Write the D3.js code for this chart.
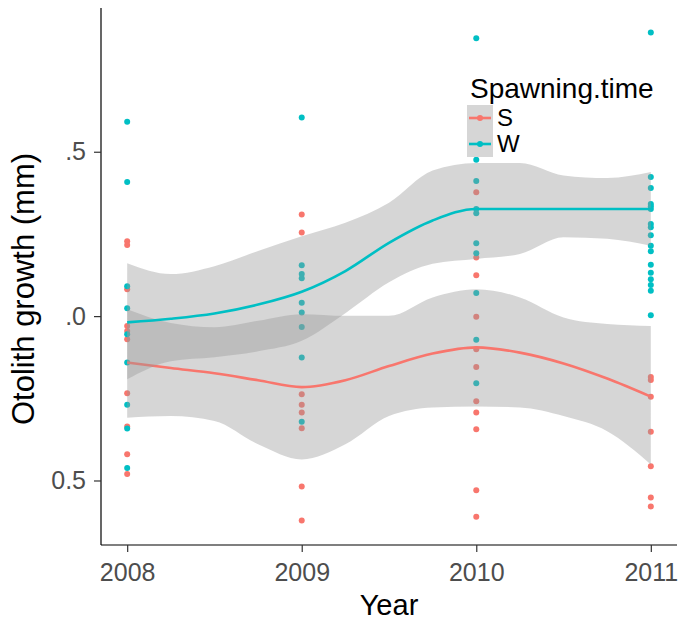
<!DOCTYPE html>
<html>
<head>
<meta charset="utf-8">
<script src="https://cdn.jsdelivr.net/npm/d3@7"></script>
<style>
  html, body { margin: 0; padding: 0; background: #fff; }
  svg { display: block; font-family: "Liberation Sans", Arial, sans-serif; }
</style>
</head>
<body>
<svg id="chart" width="678" height="621"></svg>
<script>
// Observed otolith growth per year, by spawning time
const years = [2008, 2009, 2010, 2011];
const groups = ["S", "W"];
const groupColors = ["#F8766D", "#00BFC4"];

const growthS = [
  [1.228, 1.216, 1.082, 0.970, 0.955, 0.930, 0.765, 0.664, 0.580, 0.520],
  [1.309, 1.254, 0.762, 0.730, 0.707, 0.659, 0.482, 0.378],
  [1.377, 1.178, 1.124, 0.998, 0.899, 0.845, 0.741, 0.707, 0.656, 0.470, 0.390],
  [0.815, 0.806, 0.755, 0.648, 0.543, 0.448, 0.421]
];
const growthW = [
  [1.591, 1.408, 1.091, 1.024, 0.945, 0.859, 0.730, 0.658, 0.538],
  [1.604, 1.155, 1.128, 1.115, 1.041, 1.011, 0.967, 0.874, 0.679],
  [1.845, 1.476, 1.411, 1.326, 1.313, 1.222, 1.191, 1.070, 0.928, 0.796],
  [1.863, 1.423, 1.390, 1.341, 1.334, 1.326, 1.280, 1.270, 1.246, 1.214, 1.197,
   1.156, 1.132, 1.112, 1.095, 1.077, 1.003]
];

// Loess smooth with confidence band, sampled along the year axis
const smoothYears = [2008, 2008.25, 2008.5, 2008.75, 2009, 2009.25, 2009.5,
                     2009.75, 2010, 2010.25, 2010.5, 2010.75, 2011];
const fitS   = [0.859, 0.842, 0.826, 0.805, 0.784, 0.805, 0.848, 0.886, 0.905, 0.889, 0.856, 0.810, 0.755];
const lowerS = [0.691, 0.696, 0.681, 0.610, 0.564, 0.610, 0.696, 0.722, 0.725, 0.722, 0.696, 0.650, 0.549];
const upperS = [1.021, 0.979, 0.966, 0.986, 1.006, 1.001, 1.001, 1.057, 1.082, 1.057, 0.996, 0.976, 0.970];
const fitW   = [0.981, 0.992, 1.008, 1.035, 1.074, 1.137, 1.223, 1.291, 1.326, 1.326, 1.326, 1.326, 1.326];
const lowerW = [0.808, 0.863, 0.875, 0.893, 0.925, 1.009, 1.103, 1.159, 1.174, 1.189, 1.240, 1.235, 1.214];
const upperW = [1.161, 1.128, 1.152, 1.198, 1.243, 1.284, 1.345, 1.443, 1.466, 1.466, 1.428, 1.420, 1.438];

const yTickValues = [1.5, 1.0, 0.5];
const yTickLabels = [".5", ".0", "0.5"];
const xTickValues = [2008, 2009, 2010, 2011];

const svg = d3.select("#chart");
const panel = { left: 101, right: 677, top: 8, bottom: 545 };

// Continuous scales with ggplot-style 5% expansion
const allValues = growthS.flat().concat(growthW.flat());
const yMin = d3.min(allValues), yMax = d3.max(allValues);
const yPad = (yMax - yMin) * 0.05;
const y = d3.scaleLinear().domain([yMin - yPad, yMax + yPad]).range([panel.bottom, panel.top]);
const x = d3.scaleLinear().domain([2008 - 0.15, 2011 + 0.15]).range([panel.left, panel.right]);

// Points
const pointData = [];
[growthS, growthW].forEach((series, gi) => {
  series.forEach((vals, yi) => vals.forEach(v => pointData.push({ g: gi, year: years[yi], v })));
});
svg.append("g").selectAll("circle").data(pointData).join("circle")
  .attr("cx", d => x(d.year)).attr("cy", d => y(d.v)).attr("r", 3)
  .attr("fill", d => groupColors[d.g]);

// Smooths: ribbon then line per group
const smooths = [
  { fit: fitS, lo: lowerS, hi: upperS },
  { fit: fitW, lo: lowerW, hi: upperW }
];
const area = d3.area().curve(d3.curveMonotoneX)
  .x(i => x(smoothYears[i]));
const line = d3.line().curve(d3.curveMonotoneX)
  .x(i => x(smoothYears[i]));
const idx = d3.range(smoothYears.length);
const gSmooth = svg.append("g");
smooths.forEach((s, gi) => {
  gSmooth.append("path").datum(idx)
    .attr("d", area.y0(i => y(s.lo[i])).y1(i => y(s.hi[i])))
    .attr("fill", "#999999").attr("fill-opacity", 0.4);
  gSmooth.append("path").datum(idx)
    .attr("d", line.y(i => y(s.fit[i])))
    .attr("fill", "none").attr("stroke", groupColors[gi]).attr("stroke-width", 2.6);
});

// Axes
const yAxis = d3.axisLeft(y).tickValues(yTickValues)
  .tickFormat((d, i) => yTickLabels[i]).tickSize(7).tickPadding(8);
const gy = svg.append("g").attr("transform", `translate(${panel.left},0)`).call(yAxis);
gy.select(".domain").attr("d", `M0,${panel.top}V${panel.bottom}`).attr("stroke", "#000").attr("stroke-width", 1.2);
gy.selectAll(".tick line").attr("stroke", "#333").attr("stroke-width", 1.2);
gy.selectAll(".tick text").attr("fill", "#4d4d4d").style("font-size", "25px");

const xAxis = d3.axisBottom(x).tickValues(xTickValues).tickFormat(d3.format("d"))
  .tickSize(7).tickPadding(11);
const gx = svg.append("g").attr("transform", `translate(0,${panel.bottom})`).call(xAxis);
gx.select(".domain").attr("d", `M${panel.left},0H${panel.right}`).attr("stroke", "#000").attr("stroke-width", 1.2);
gx.selectAll(".tick line").attr("stroke", "#333").attr("stroke-width", 1.2);
gx.selectAll(".tick text").attr("fill", "#4d4d4d").style("font-size", "25px");

// Axis titles
svg.append("text").attr("x", (panel.left + panel.right) / 2).attr("y", 615)
  .attr("text-anchor", "middle").style("font-size", "29px").text("Year");
svg.append("text").attr("transform", `translate(34,289) rotate(-90)`)
  .attr("text-anchor", "middle").style("font-size", "31px").text("Otolith growth (mm)");

// Legend
const legend = svg.append("g").attr("transform", "translate(467,0)");
legend.append("text").attr("x", 3).attr("y", 98).style("font-size", "28px").text("Spawning.time");
groups.forEach((g, i) => {
  const top = 105 + i * 26;
  legend.append("rect").attr("x", 0).attr("y", top).attr("width", 26).attr("height", 26)
    .attr("fill", "#d6d6d6");
  legend.append("line").attr("x1", 2).attr("x2", 24).attr("y1", top + 13).attr("y2", top + 13)
    .attr("stroke", groupColors[i]).attr("stroke-width", 2.6);
  legend.append("circle").attr("cx", 13).attr("cy", top + 13).attr("r", 3).attr("fill", groupColors[i]);
  legend.append("text").attr("x", 30).attr("y", top + 21).style("font-size", "24px").text(g);
});
</script>
</body>
</html>
